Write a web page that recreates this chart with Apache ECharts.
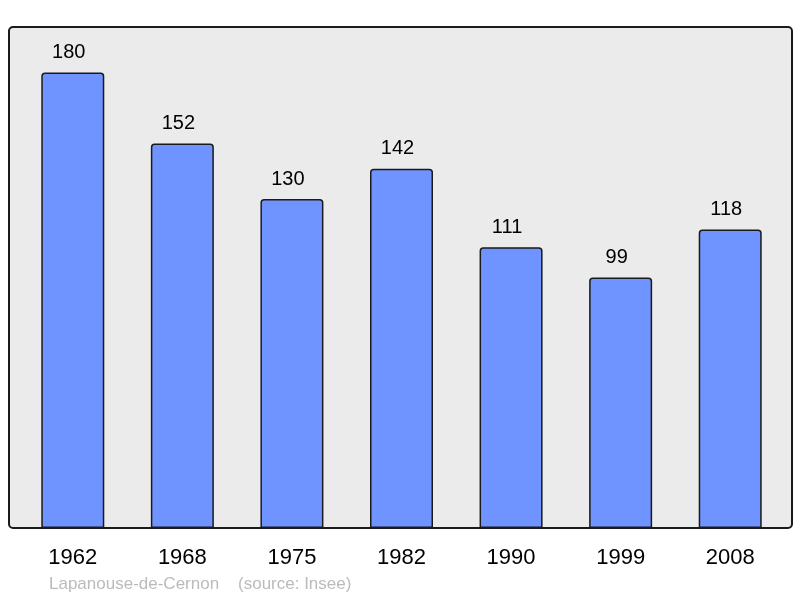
<!DOCTYPE html>
<html>
<head>
<meta charset="utf-8">
<script src="https://cdn.jsdelivr.net/npm/echarts@6/dist/echarts.min.js"></script>
<style>
  html, body { margin: 0; padding: 0; background: #fff; }
  #chart { width: 800px; height: 598px; }
</style>
</head>
<body>
<div id="chart"></div>
<script>
const years = ['1962', '1968', '1975', '1982', '1990', '1999', '2008']
const population = [180, 152, 130, 142, 111, 99, 118]

const chart = echarts.init(document.getElementById('chart'), null, {renderer: 'canvas'})

chart.setOption({
    animation: false,
    textStyle: {fontFamily: 'Liberation Sans, Arial, sans-serif'},
    graphic: [
        {
            type: 'rect',
            z: -10,
            shape: {x: 9, y: 27, width: 783, height: 501, r: 4},
            style: {fill: '#ebebeb', stroke: '#1a1a1a', lineWidth: 2}
        },
        {
            type: 'text',
            left: 49,
            top: 576,
            style: {
                text: 'Lapanouse-de-Cernon    (source: Insee)',
                fill: '#bbbbbb',
                fontSize: 17,
                fontFamily: 'Liberation Sans, Arial, sans-serif'
            }
        }
    ],
    grid: {left: 18, right: 15, top: 27, bottom: 70},
    xAxis: {
        type: 'category',
        data: years,
        axisLine: {show: false},
        axisTick: {show: false},
        axisLabel: {color: '#000', fontSize: 22, margin: 19}
    },
    yAxis: {
        type: 'value',
        min: 0,
        max: 198,
        show: false,
        splitLine: {show: false}
    },
    series: [{
        type: 'bar',
        data: population,
        barWidth: 63,
        itemStyle: {
            color: '#7094ff',
            borderColor: '#1a1a1a',
            borderWidth: 1.5,
            borderRadius: [3, 3, 0, 0]
        },
        label: {
            show: true,
            position: 'top',
            distance: 10,
            offset: [-4, 0],
            color: '#000',
            fontSize: 20
        }
    }]
})
</script>
</body>
</html>
